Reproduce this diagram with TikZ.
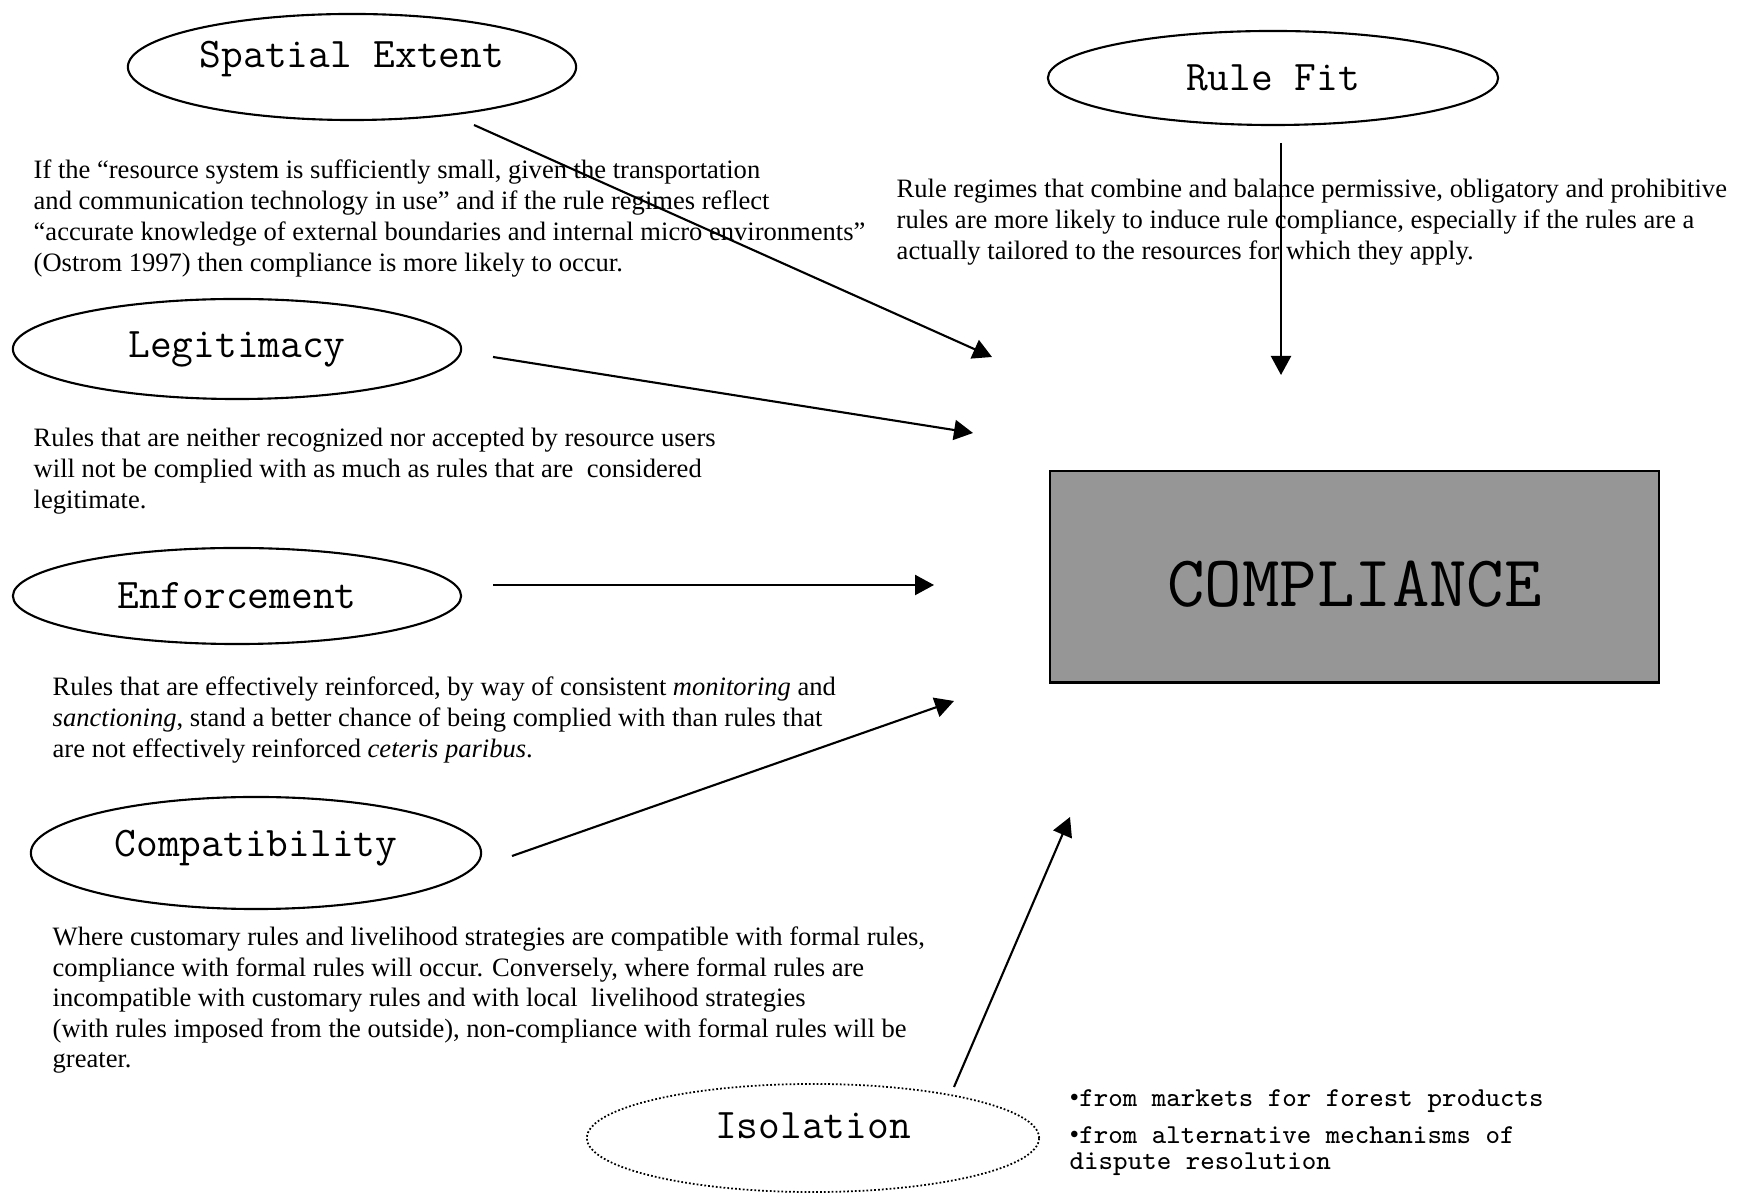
\documentclass[tikz,border=0pt]{standalone}
\usepackage{fontspec}
\setmainfont{Liberation Serif}
\usepackage{tikz}
\usetikzlibrary{arrows.meta, shapes.geometric}
\usepackage{xcolor}
\definecolor{boxGray}{HTML}{969696}

\tikzset{
  factor/.style={ellipse, draw, line width=0.6pt, inner sep=0pt,
                 minimum width=4.48cm, font=\fontsize{12pt}{14pt}\ttfamily},
  note/.style={align=left, anchor=base west, inner sep=0pt,
               font=\fontsize{7.55pt}{8.87pt}\selectfont},
  flow/.style={line width=0.6pt, -{Triangle[length=5.4pt, width=5.7pt]}},
}
\newcommand{\dotitem}{{\rmfamily\textbullet}}

\begin{document}
\begin{tikzpicture}[x=0.01cm, y=-0.01cm]
  \useasboundingbox (0,0) rectangle (1748,1198);

  \node[draw, fill=boxGray, line width=0.6pt, minimum width=6.09cm,
        minimum height=2.11cm, text height=17pt, text depth=0pt,
        font=\fontsize{20.7pt}{23pt}\ttfamily] (compliance) at (1354.5,577) {COMPLIANCE};

  \node[factor, minimum height=1.06cm, text depth=7pt] (spatial) at (352,67) {Spatial Extent};
  \node[factor, minimum width=4.5cm, minimum height=0.94cm] (rulefit) at (1273,78) {Rule Fit};
  \node[factor, minimum height=1.0cm] (legit) at (237,349) {Legitimacy};
  \node[factor, minimum height=0.96cm] (enforce) at (237,596) {Enforcement};
  \node[factor, minimum width=4.5cm, minimum height=1.12cm, text depth=5.6pt] (compat) at (256,853) {Compatibility};
  \node[factor, minimum width=4.52cm, minimum height=1.08cm, text depth=7pt, line width=0.5pt,
        dash pattern=on 0.5pt off 0.6pt] (isol) at (813,1138) {Isolation};

  \node[note] (spatialtxt) at (33,272)
    {If the ``resource system is sufficiently small, given the transportation\\
     and communication technology in use'' and if the rule regimes reflect\\
     ``accurate knowledge of external boundaries and internal micro environments''\\
     (Ostrom 1997) then compliance is more likely to occur.};
  \node[note] (rulefittxt) at (896,260)
    {Rule regimes that combine and balance permissive, obligatory and prohibitive\\
     rules are more likely to induce rule compliance, especially if the rules are a\\
     actually tailored to the resources for which they apply.};
  \node[note] (legittxt) at (33,509)
    {Rules that are neither recognized nor accepted by resource users\\
     will not be complied with as much as rules that are\ \ considered\\
     legitimate.};
  \node[note] (enforcetxt) at (52,758)
    {Rules that are effectively reinforced, by way of consistent \emph{monitoring} and\\
     \emph{sanctioning}, stand a better chance of being complied with than rules that\\
     are not effectively reinforced \emph{ceteris paribus}.};
  \node[note, font=\fontsize{7.55pt}{8.7pt}\selectfont] (compattxt) at (52,1068)
    {Where customary rules and livelihood strategies are compatible with formal rules,\\
     compliance with formal rules will occur. Conversely, where formal rules are\\
     incompatible with customary rules and with local\ \ livelihood strategies\\
     (with rules imposed from the outside), non-compliance with formal rules will be\\
     greater.};
  \node[note, font=\fontsize{7.77pt}{7.6pt}\ttfamily] (isoltxt) at (1069,1170)
    {\dotitem from markets for forest products\\[2.9pt]
     \dotitem from alternative mechanisms of\\
     dispute resolution};

  \coordinate (spatialOut) at (474,125);   \coordinate (spatialTip) at (992,357);
  \coordinate (rulefitOut) at (1281,143);  \coordinate (rulefitTip) at (1281,375);
  \coordinate (legitOut) at (493,357);     \coordinate (legitTip) at (973,433);
  \coordinate (enforceOut) at (493,585);   \coordinate (enforceTip) at (934,585);
  \coordinate (compatOut) at (512,856);    \coordinate (compatTip) at (954,701);
  \coordinate (isolOut) at (954,1087);     \coordinate (isolTip) at (1070,817);

  \draw[flow] (spatialOut) -- (spatialTip);
  \draw[flow] (rulefitOut) -- (rulefitTip);
  \draw[flow] (legitOut) -- (legitTip);
  \draw[flow] (enforceOut) -- (enforceTip);
  \draw[flow] (compatOut) -- (compatTip);
  \draw[flow] (isolOut) -- (isolTip);
\end{tikzpicture}
\end{document}
